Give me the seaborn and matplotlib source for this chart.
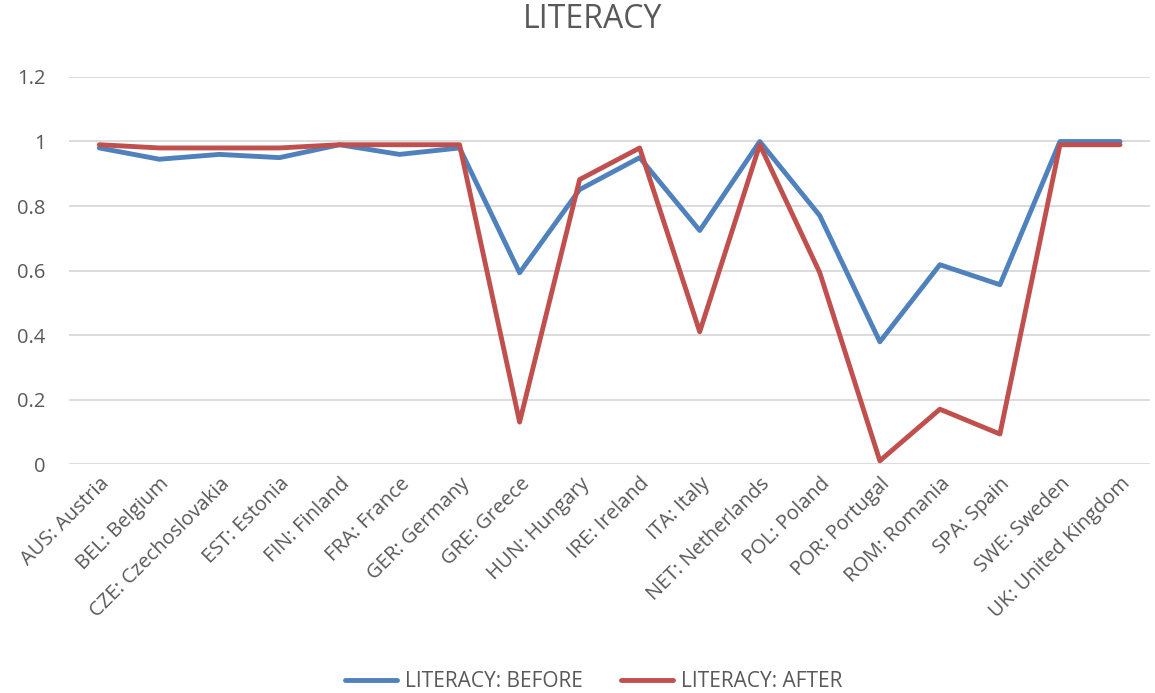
import pandas as pd
import seaborn as sns
import matplotlib.pyplot as plt

sns.set_theme(style="white")
plt.rcParams['font.family'] = ['Open Sans', 'DejaVu Sans']

# datos
paises = ["AUS: Austria", "BEL: Belgium", "CZE: Czechoslovakia", "EST: Estonia",
          "FIN: Finland", "FRA: France", "GER: Germany", "GRE: Greece",
          "HUN: Hungary", "IRE: Ireland", "ITA: Italy", "NET: Netherlands",
          "POL: Poland", "POR: Portugal", "ROM: Romania", "SPA: Spain",
          "SWE: Sweden", "UK: United Kingdom"]
antes = [0.98, 0.945, 0.96, 0.95, 0.99, 0.96, 0.98, 0.593, 0.851, 0.95,
         0.724, 1.0, 0.77, 0.379, 0.618, 0.556, 1.0, 1.0]
despues = [0.99, 0.98, 0.98, 0.98, 0.99, 0.99, 0.99, 0.13, 0.882, 0.98,
           0.41, 0.99, 0.593, 0.01, 0.17, 0.093, 0.99, 0.99]

df = pd.DataFrame({
    "pais": paises * 2,
    "valor": antes + despues,
    "serie": ["LITERACY: BEFORE"] * len(paises) + ["LITERACY: AFTER"] * len(paises),
})
df["pos"] = list(range(len(paises))) * 2

fig = plt.figure(figsize=(11.55, 6.93), dpi=100)
ax = fig.add_axes([0.06, 0.3304, 0.9357, 0.5585])

sns.lineplot(data=df, x="pos", y="valor", hue="serie",
             palette={"LITERACY: BEFORE": "#4F81BD", "LITERACY: AFTER": "#C0504D"},
             linewidth=3.5, ax=ax, legend=True)

ax.set_xlim(-0.5, len(paises) - 0.5)
ax.set_ylim(0, 1.2)
ax.set_yticks([0, 0.2, 0.4, 0.6, 0.8, 1.0, 1.2])
ax.set_yticklabels(["0", "0.2", "0.4", "0.6", "0.8", "1", "1.2"])
ax.set_xticks(range(len(paises)))
ax.set_xticklabels(paises, rotation=45, ha="right", rotation_mode="anchor")
ax.tick_params(axis="both", labelsize=14.5, colors="#595959", length=0)
ax.tick_params(axis="x", pad=7)
ax.tick_params(axis="y", pad=17)
ax.grid(axis="y", color="#D9D9D9", linewidth=1.3)
ax.set_axisbelow(True)
for s in ax.spines.values():
    s.set_visible(False)
ax.set_xlabel("")
ax.set_ylabel("")

fig.suptitle("LITERACY", fontsize=23, color="#595959", x=0.513, y=0.995)

h, l = ax.get_legend_handles_labels()
ax.legend_.remove()
fig.legend(h, l, loc="lower center", ncol=2, frameon=False, fontsize=15,
           bbox_to_anchor=(0.514, -0.026), handlelength=2.5, columnspacing=1.8,
           handletextpad=0.4, labelcolor="#595959")

plt.savefig("out.png", dpi=100)
